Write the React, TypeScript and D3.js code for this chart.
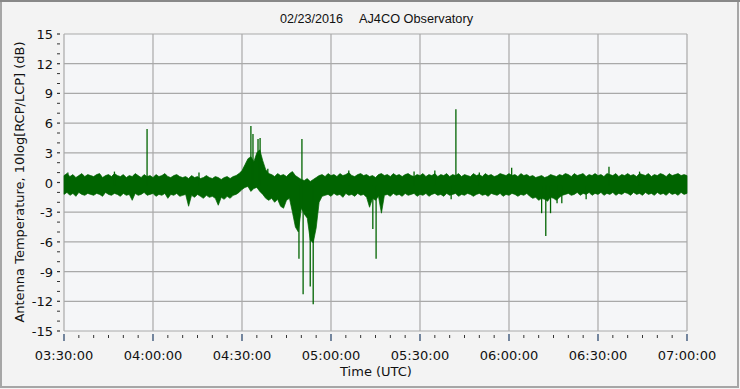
import React from 'react';
import * as d3 from 'd3';

const W = 740;
const H = 389;

// time axis: minutes after 03:30:00 UTC
const timeTicks = [0, 30, 60, 90, 120, 150, 180, 210];
const timeLabels = ["03:30:00", "04:00:00", "04:30:00", "05:00:00", "05:30:00", "06:00:00", "06:30:00", "07:00:00"];
const yTickValues = [15, 12, 9, 6, 3, 0, -3, -6, -9, -12, -15];

// upper envelope of the noise band, one value per minute (dB)
const upperEnvelope = [
  0.7, 0.9, 0.6, 0.8, 0.5, 0.7, 0.9, 0.6, 0.8, 0.7,
  0.6, 0.8, 0.9, 0.5, 0.7, 0.8, 0.6, 0.9, 0.7, 0.6,
  0.8, 0.5, 0.7, 0.6, 0.9, 0.7, 0.5, 0.8, 0.6, 0.7,
  0.5, 0.8, 0.6, 0.7, 0.9, 0.6, 0.5, 0.7, 0.8, 0.6,
  0.5, 0.6, 0.4, 0.7, 0.5, 0.6, 0.4, 0.5, 0.7, 0.5,
  0.4, 0.6, 0.5, 0.3, 0.5, 0.6, 0.4, 0.6, 0.7, 0.9,
  1.2, 1.8, 2.4, 2.6, 2.1, 3.0, 3.3, 2.2, 1.3, 0.9,
  0.8, 0.6, 0.9, 0.7, 0.8, 0.6, 0.9, 1.1, 0.7, 0.5,
  0.3, 0.2, 0.4, 0.1, 0.3, 0.5, 0.7, 0.8, 0.6, 0.9,
  0.7, 0.8, 0.6, 0.9, 0.7, 0.8, 1.0, 0.7, 0.6, 0.8,
  0.9, 0.7, 0.8, 0.6, 0.7, 0.5, 0.8, 0.9, 0.7, 0.8,
  0.6, 0.9, 0.7, 0.8, 0.6, 0.8, 0.9, 0.7, 0.6, 0.8,
  0.7, 0.9, 0.6, 0.8, 0.7, 0.9, 0.6, 0.8, 0.7, 0.9,
  0.6, 0.8, 0.7, 0.9, 0.6, 0.8, 0.7, 0.6, 0.9, 0.7,
  0.8, 0.6, 0.9, 0.7, 0.8, 0.6, 0.7, 0.9, 0.8, 0.7,
  0.9, 0.7, 0.8, 0.6, 0.9, 0.7, 0.8, 0.6, 0.7, 0.5,
  0.6, 0.7, 0.5, 0.6, 0.8, 0.7, 0.6, 0.8, 0.7, 0.9,
  0.8, 0.6, 0.9, 0.7, 0.8, 0.9, 0.6, 0.8, 0.7, 0.9,
  0.7, 0.8, 0.6, 0.9, 0.8, 0.7, 0.9, 0.6, 0.8, 0.7,
  0.9, 0.7, 0.8, 0.6, 0.9, 0.8, 0.7, 0.9, 0.6, 0.8,
  0.7, 0.9, 0.8, 0.6, 0.9, 0.7, 0.8, 0.9, 0.7, 0.8, 0.7,
];

// lower envelope of the noise band, one value per minute (dB)
const lowerEnvelope = [
  -1.2, -1.0, -1.3, -1.1, -1.4, -1.0, -1.2, -1.3, -1.1, -1.2,
  -1.3, -1.1, -1.2, -1.4, -1.0, -1.2, -1.3, -1.1, -1.2, -1.4,
  -1.1, -1.3, -1.2, -1.8, -1.1, -1.3, -1.2, -1.0, -1.3, -1.2,
  -1.1, -1.4, -1.2, -1.3, -1.1, -1.6, -1.2, -1.3, -1.1, -1.4,
  -1.3, -1.2, -2.4, -1.3, -1.5, -1.2, -1.4, -1.6, -1.3, -1.5,
  -1.4, -1.6, -2.3, -1.5, -1.7, -1.4, -1.6, -1.3, -1.2, -1.0,
  -0.7, -0.5, -0.4, -0.9, -0.6, -0.5, -0.9, -1.2, -1.6, -1.8,
  -1.6, -2.0, -1.7, -2.4, -2.6, -1.8, -1.6, -3.0, -4.5, -5.0,
  -2.6, -3.2, -3.6, -5.8, -6.1, -4.6, -2.0, -1.4, -1.3, -1.2,
  -1.4, -1.1, -1.3, -1.2, -1.5, -1.1, -1.3, -1.2, -1.4, -1.1,
  -1.3, -1.2, -1.5, -2.5, -1.6, -1.8, -1.4, -3.1, -1.3, -1.2,
  -1.4, -1.1, -1.3, -1.2, -1.4, -1.1, -1.3, -1.2, -1.1, -1.4,
  -1.2, -1.3, -1.1, -1.4, -1.2, -1.1, -1.3, -1.2, -1.4, -1.1,
  -1.3, -1.2, -1.1, -1.4, -1.2, -1.3, -1.1, -1.2, -1.4, -1.2,
  -1.1, -1.3, -1.2, -1.4, -1.1, -1.2, -1.3, -1.1, -1.4, -1.2,
  -1.3, -1.1, -1.2, -1.4, -1.2, -1.3, -1.1, -1.4, -1.6, -1.5,
  -1.8, -1.6, -1.7, -1.9, -1.5, -1.6, -1.8, -1.5, -1.3, -1.2,
  -1.1, -1.3, -1.2, -1.0, -1.3, -1.1, -1.2, -1.0, -1.3, -1.1,
  -1.2, -1.0, -1.3, -1.1, -1.2, -1.0, -1.3, -1.1, -1.2, -1.0,
  -1.1, -1.3, -1.0, -1.2, -1.1, -1.3, -1.0, -1.2, -1.1, -1.3,
  -1.0, -1.2, -1.1, -1.3, -1.0, -1.2, -1.1, -1.3, -1.0, -1.2, -1.1,
];

// isolated spikes: minute after 03:30 and peak value (dB)
const spikeMinutes = [1.3, 17.0, 28.0, 45.5, 63.0, 63.7, 65.4, 66.1, 68.7, 79.2, 80.2, 80.6, 83.0, 84.0, 96.0, 104.1, 105.2, 118.0, 125.0, 130.5, 132.1, 140.0, 150.9, 161.0, 162.4, 164.0, 166.2, 167.8, 176.0, 183.7, 194.0];
const spikeValues = [1.0, 1.1, 5.4, 1.0, 5.7, 4.9, 4.4, 4.5, 1.4, -7.7, 4.4, -11.3, -10.5, -12.3, 1.2, -4.7, -7.7, 1.1, 1.2, -1.7, 7.4, 1.0, 1.5, -3.1, -5.4, -3.1, -2.1, -2.1, -1.7, 1.6, 1.1];

const GREEN = '#006400';
const GRID = '#a9a9a9';
const FONT = "'DejaVu Sans', Verdana, sans-serif";

export default function App() {
  const x = d3.scaleLinear().domain([0, 210]).range([64, 687]);
  const y = d3.scaleLinear().domain([-15, 15]).range([331, 34]);

  const band = d3
    .area<number>()
    .x((_, i) => x(i))
    .y0((_, i) => y(lowerEnvelope[i]))
    .y1((d) => y(d))(upperEnvelope) as string;

  const minorX = d3.range(0, 211, 5).filter((m) => m % 30 !== 0);
  const minorY = d3.range(-15, 16, 1).filter((v) => v % 3 !== 0);
  const [x0, x1] = x.range();
  const [yb, yt] = y.range();

  return (
    <svg
      width={W}
      height={H}
      style={{ position: 'absolute', left: 0, top: 0, display: 'block' }}
      xmlns="http://www.w3.org/2000/svg"
    >
      <rect x={0} y={0} width={W} height={H} fill="#f3f3f3" />
      <rect x={1} y={1} width={W - 3} height={H - 3} fill="none" stroke="#a6a6a6" strokeWidth={2} />
      <line x1={0} y1={1} x2={W} y2={1} stroke="#888" strokeWidth={2} />

      {/* plot background */}
      <rect x={x0} y={yt} width={x1 - x0} height={yb - yt} fill="#f5f6f8" />

      {/* grid */}
      {timeTicks.map((t) => (
        <line key={'gx' + t} x1={x(t)} x2={x(t)} y1={yt} y2={yb} stroke={GRID} strokeWidth={1.2} />
      ))}
      {yTickValues.map((v) => (
        <line key={'gy' + v} x1={x0} x2={x1} y1={y(v)} y2={y(v)} stroke={GRID} strokeWidth={1.2} />
      ))}

      {/* data */}
      <path d={band} fill={GREEN} stroke={GREEN} strokeWidth={0.7} />
      {spikeMinutes.map((m, i) => (
        <line
          key={'s' + i}
          x1={x(m)}
          x2={x(m)}
          y1={y(-0.3)}
          y2={y(spikeValues[i])}
          stroke={GREEN}
          strokeWidth={1.3}
        />
      ))}

      {/* x ticks */}
      {minorX.map((m) => (
        <line key={'mx' + m} x1={x(m)} x2={x(m)} y1={yb + 4} y2={yb + 7} stroke="#333" strokeWidth={1} />
      ))}
      {timeTicks.map((t) => (
        <line key={'tx' + t} x1={x(t)} x2={x(t)} y1={yb + 3} y2={yb + 10} stroke="#1f3d66" strokeWidth={1.2} />
      ))}
      {timeTicks.map((t, i) => (
        <text
          key={'lx' + t}
          x={x(t)}
          y={360}
          textAnchor="middle"
          fontFamily={FONT}
          fontSize={13}
          fill="#111"
        >
          {timeLabels[i]}
        </text>
      ))}

      {/* y ticks */}
      {minorY.map((v) => (
        <line key={'my' + v} x1={57} x2={60} y1={y(v)} y2={y(v)} stroke="#333" strokeWidth={1} />
      ))}
      {yTickValues.map((v) => (
        <line key={'ty' + v} x1={57} x2={60} y1={y(v)} y2={y(v)} stroke="#333" strokeWidth={1.2} />
      ))}
      {yTickValues.map((v) => (
        <text
          key={'ly' + v}
          x={53}
          y={y(v) + 5}
          textAnchor="end"
          fontFamily={FONT}
          fontSize={13}
          fill="#111"
        >
          {v < 0 ? '-' + Math.abs(v) : String(v)}
        </text>
      ))}

      {/* titles */}
      <text
        x={280}
        y={23}
        fontFamily="'Liberation Sans Narrow', 'Liberation Sans', Arial, sans-serif"
        fontSize={12.5}
        textLength={63}
        lengthAdjust="spacingAndGlyphs"
        fill="#111"
      >
        02/23/2016
      </text>
      <text
        x={359}
        y={23}
        fontFamily="'Liberation Sans Narrow', 'Liberation Sans', Arial, sans-serif"
        fontSize={12.5}
        textLength={114}
        lengthAdjust="spacingAndGlyphs"
        fill="#111"
      >
        AJ4CO Observatory
      </text>
      <text x={376} y={376} textAnchor="middle" fontFamily={FONT} fontSize={13} fill="#111">
        Time (UTC)
      </text>
      <text
        transform="translate(24,182) rotate(-90)"
        textAnchor="middle"
        fontFamily={FONT}
        fontSize={13}
        fill="#111"
      >
        Antenna Temperature, 10log[RCP/LCP] (dB)
      </text>
    </svg>
  );
}
